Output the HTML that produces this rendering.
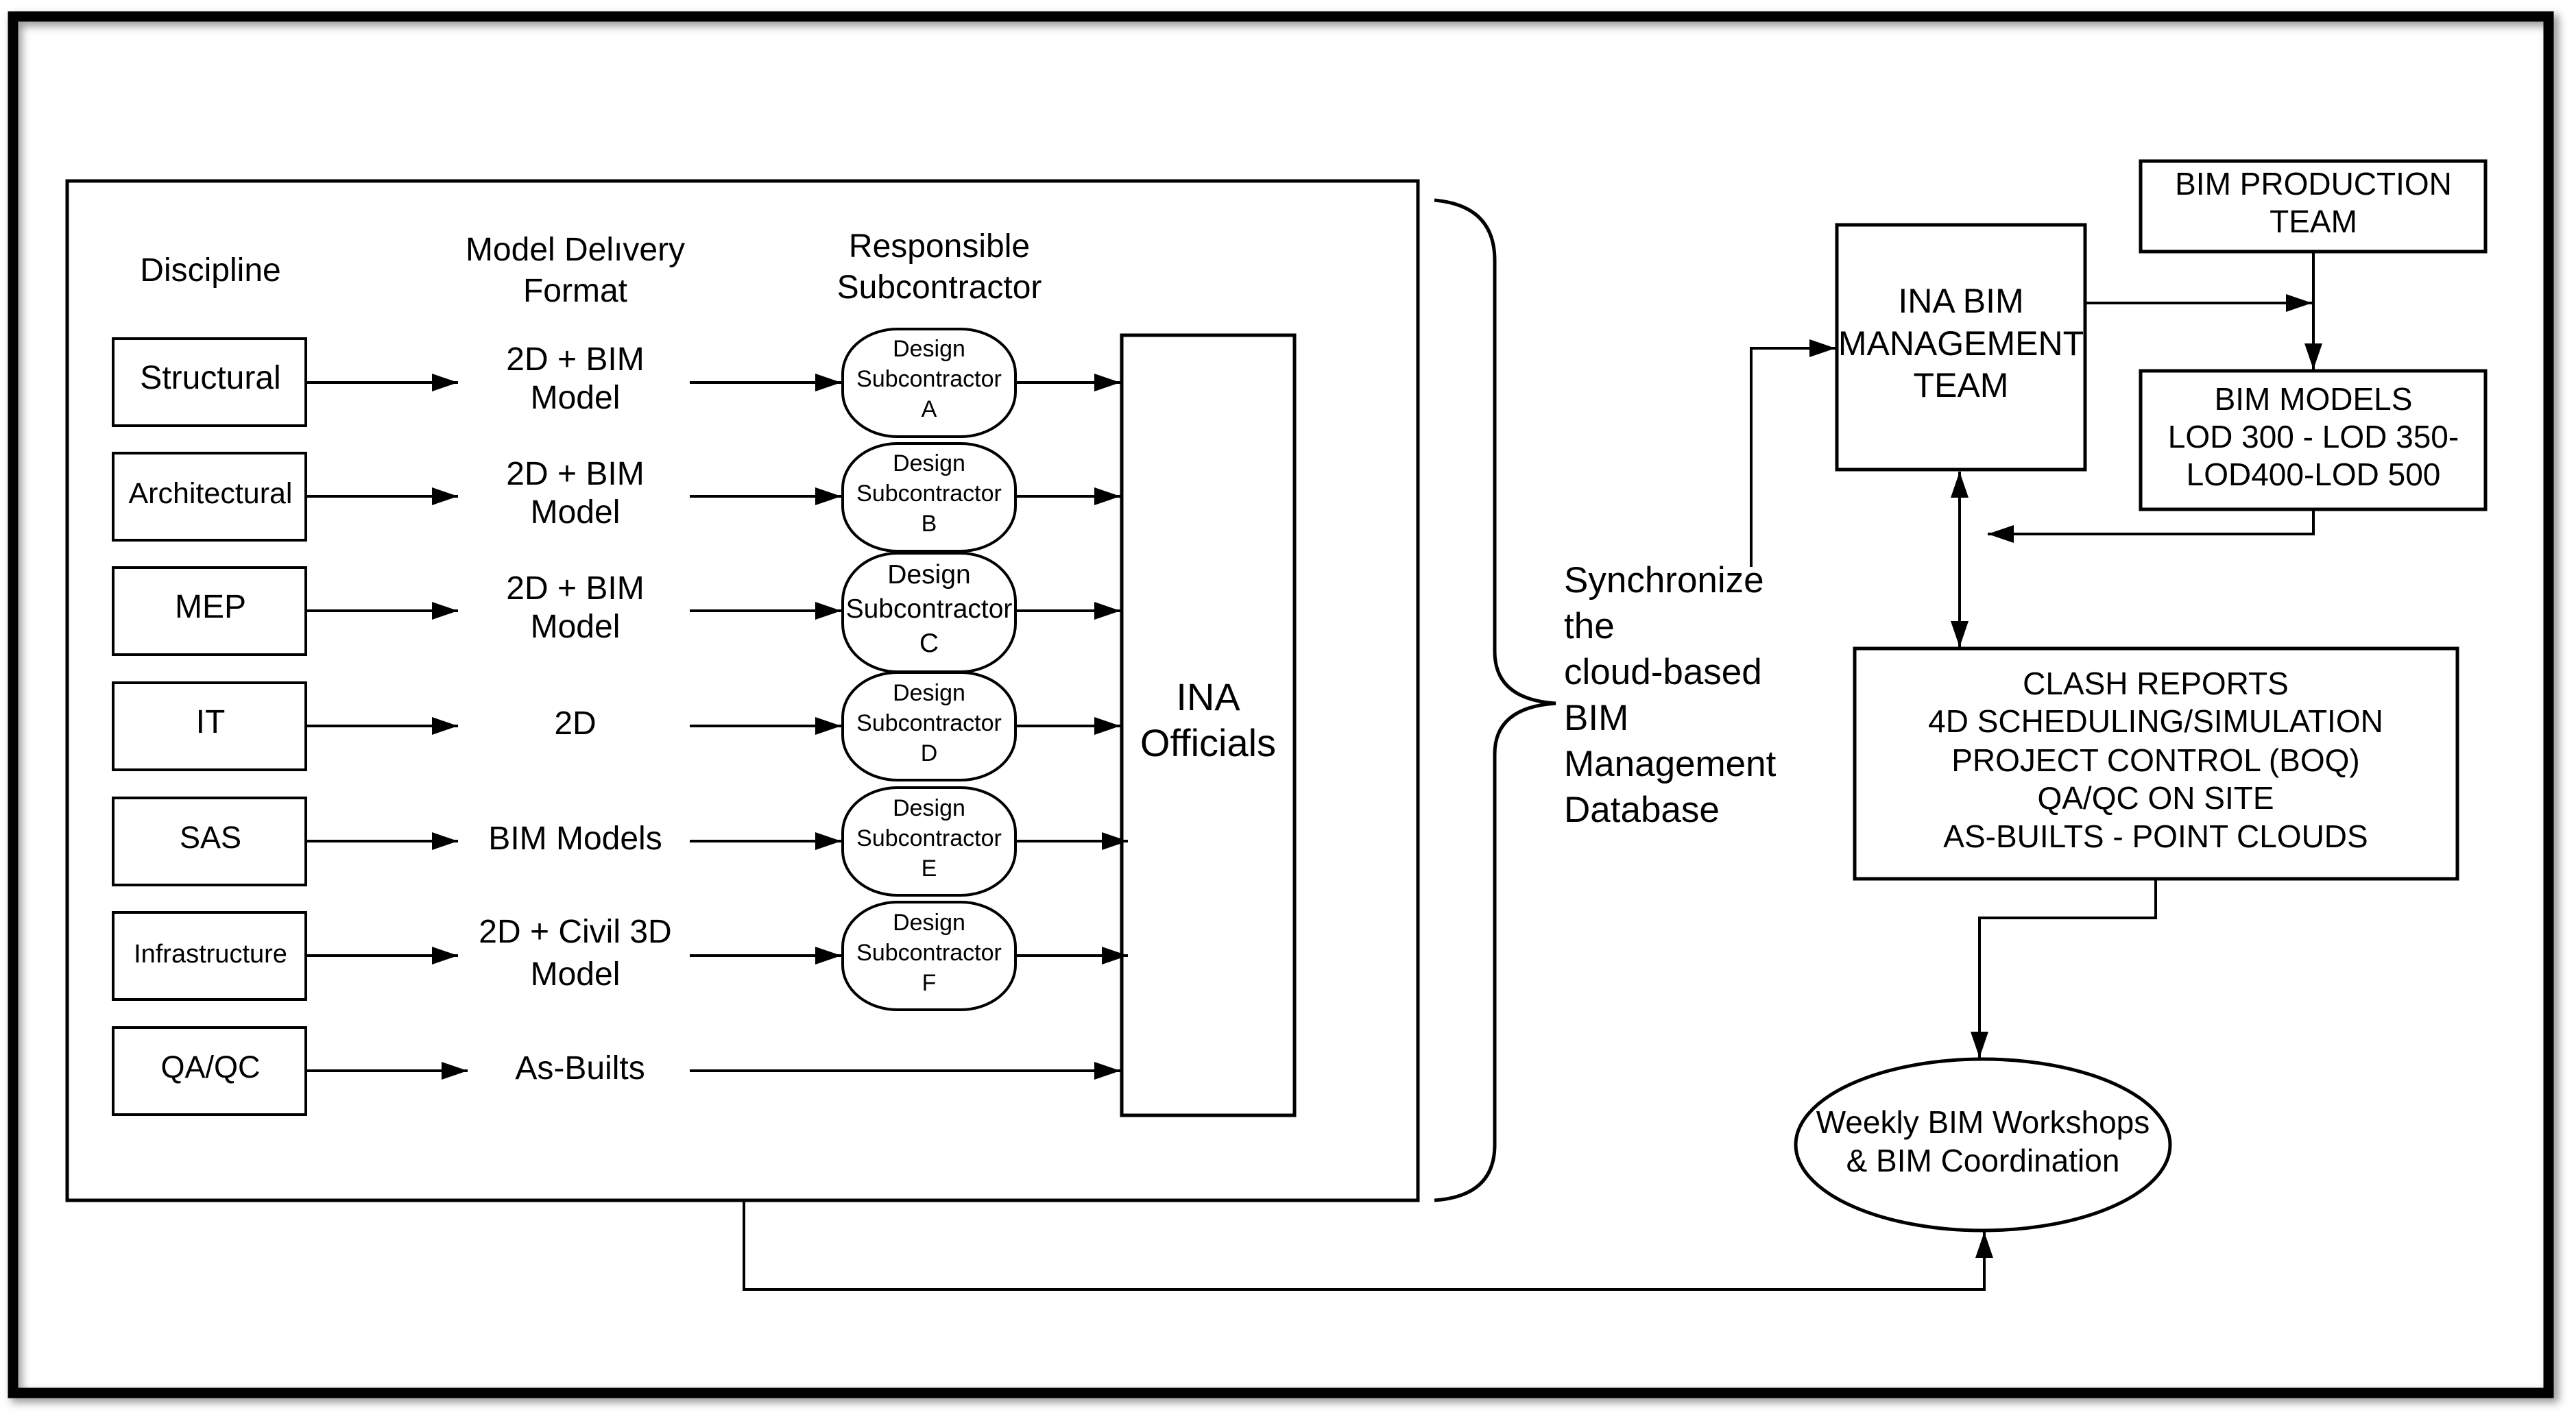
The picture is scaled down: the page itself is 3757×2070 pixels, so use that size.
<!DOCTYPE html>
<html><head><meta charset="utf-8"><style>
html,body{margin:0;padding:0;background:#fff}
svg{display:block}
text{font-family:"Liberation Sans",sans-serif;fill:#000}
</style></head><body>
<svg width="3757" height="2070" viewBox="0 0 3757 2070" xmlns="http://www.w3.org/2000/svg">
<defs>
<marker id="a" markerUnits="userSpaceOnUse" markerWidth="40" markerHeight="30" refX="38" refY="13" orient="auto"><path d="M0,0 L38,13 L0,26 Z" fill="#000"/></marker>
<marker id="b" markerUnits="userSpaceOnUse" markerWidth="40" markerHeight="30" refX="38" refY="13" orient="auto-start-reverse"><path d="M0,0 L38,13 L0,26 Z" fill="#000"/></marker>
<filter id="sh" x="-5%" y="-5%" width="110%" height="110%"><feGaussianBlur stdDeviation="6"/></filter>
</defs>
<rect x="0" y="0" width="3757" height="2070" fill="#fff"/>
<rect x="24" y="30" width="3700" height="2008" fill="none" stroke="#999" stroke-width="16" filter="url(#sh)"/>
<rect x="19" y="24" width="3698" height="2008" fill="none" stroke="#000" stroke-width="15"/>
<g fill="none" stroke="#000" stroke-width="5">
<rect x="98" y="264" width="1970" height="1487"/>
<rect x="1636" y="489" width="252" height="1138"/>
<rect x="2679" y="328" width="362" height="357"/>
<rect x="3122" y="235" width="503" height="132"/>
<rect x="3122" y="541" width="503" height="202"/>
<rect x="2705" y="946" width="879" height="336"/>
<ellipse cx="2892" cy="1670" rx="273" ry="125"/>
<path d="M2092,292 Q2180,300 2180,380 L2180,950 Q2180,1020 2269,1026 Q2180,1032 2180,1100 L2180,1670 Q2180,1745 2092,1751"/>
</g>
<g fill="none" stroke="#000" stroke-width="4">
<rect x="165" y="494" width="281" height="127"/>
<rect x="165" y="661" width="281" height="127"/>
<rect x="165" y="828" width="281" height="127"/>
<rect x="165" y="996" width="281" height="127"/>
<rect x="165" y="1164" width="281" height="127"/>
<rect x="165" y="1331" width="281" height="127"/>
<rect x="165" y="1499" width="281" height="127"/>
<rect x="1229" y="480" width="252" height="157" rx="80" ry="65"/>
<rect x="1229" y="647" width="252" height="157" rx="80" ry="65"/>
<rect x="1229" y="807" width="252" height="173" rx="80" ry="70"/>
<rect x="1229" y="981" width="252" height="157" rx="80" ry="65"/>
<rect x="1229" y="1149" width="252" height="157" rx="80" ry="65"/>
<rect x="1229" y="1316" width="252" height="157" rx="80" ry="65"/>
</g>
<g fill="none" stroke="#000" stroke-width="4" marker-end="url(#a)">
<path d="M446,558 H668"/><path d="M446,724 H668"/><path d="M446,891 H668"/><path d="M446,1059 H668"/><path d="M446,1227 H668"/><path d="M446,1394 H668"/><path d="M446,1562 H682"/>
<path d="M1006,558 H1227"/><path d="M1006,724 H1227"/><path d="M1006,891 H1227"/><path d="M1006,1059 H1227"/><path d="M1006,1227 H1227"/><path d="M1006,1394 H1227"/>
<path d="M1481,558 H1634"/><path d="M1481,724 H1634"/><path d="M1481,891 H1634"/><path d="M1481,1059 H1634"/><path d="M1481,1227 H1645"/><path d="M1481,1394 H1645"/>
<path d="M1006,1562 H1634"/>
<path d="M2554,827 V508 H2677"/>
<path d="M3041,442 H3372"/>
<path d="M3374,367 V539"/>
<path d="M3374,743 V779 H2899"/>
<path d="M3144,1282 V1339 H2887 V1543"/>
<path d="M1085,1751 V1881 H2894 V1797"/>
</g>
<path d="M2858,688 V944" fill="none" stroke="#000" stroke-width="4" marker-start="url(#b)" marker-end="url(#b)"/>
<g font-size="48" text-anchor="middle">
<text x="307" y="410">Discipline</text>
<text x="839" y="380">Model Delıvery</text>
<text x="839" y="440">Format</text>
<text x="1370" y="375">Responsible</text>
<text x="1370" y="435">Subcontractor</text>
<text x="307" y="567">Structural</text>
<text x="307" y="734" font-size="43">Architectural</text>
<text x="307" y="901">MEP</text>
<text x="307" y="1069">IT</text>
<text x="307" y="1237" font-size="45">SAS</text>
<text x="307" y="1404" font-size="38">Infrastructure</text>
<text x="307" y="1572" font-size="45">QA/QC</text>
<text x="839" y="540">2D + BIM</text><text x="839" y="596">Model</text>
<text x="839" y="707">2D + BIM</text><text x="839" y="763">Model</text>
<text x="839" y="874">2D + BIM</text><text x="839" y="930">Model</text>
<text x="839" y="1071">2D</text>
<text x="839" y="1239">BIM Models</text>
<text x="839" y="1375">2D + Civil 3D</text><text x="839" y="1437">Model</text>
<text x="846" y="1574">As-Builts</text>
</g>
<g font-size="34" text-anchor="middle">
<text x="1355" y="520">Design</text><text x="1355" y="564">Subcontractor</text><text x="1355" y="608">A</text>
<text x="1355" y="687">Design</text><text x="1355" y="731">Subcontractor</text><text x="1355" y="775">B</text>
<text x="1355" y="851" font-size="39">Design</text><text x="1355" y="901" font-size="39">Subcontractor</text><text x="1355" y="951" font-size="39">C</text>
<text x="1355" y="1022">Design</text><text x="1355" y="1066">Subcontractor</text><text x="1355" y="1110">D</text>
<text x="1355" y="1190">Design</text><text x="1355" y="1234">Subcontractor</text><text x="1355" y="1278">E</text>
<text x="1355" y="1357">Design</text><text x="1355" y="1401">Subcontractor</text><text x="1355" y="1445">F</text>
</g>
<g font-size="56" text-anchor="middle">
<text x="1762" y="1036">INA</text>
<text x="1762" y="1103">Officials</text>
</g>
<g font-size="53">
<text x="2281" y="864">Synchronize</text>
<text x="2281" y="931">the</text>
<text x="2281" y="998">cloud-based</text>
<text x="2281" y="1065">BIM</text>
<text x="2281" y="1132">Management</text>
<text x="2281" y="1199">Database</text>
</g>
<g font-size="50" text-anchor="middle">
<text x="2860" y="456">INA  BIM</text>
<text x="2860" y="518">MANAGEMENT</text>
<text x="2860" y="579">TEAM</text>
</g>
<g font-size="46" text-anchor="middle">
<text x="3374" y="284">BIM PRODUCTION</text>
<text x="3374" y="339">TEAM</text>
<text x="3374" y="598">BIM MODELS</text>
<text x="3374" y="653">LOD 300 - LOD 350-</text>
<text x="3374" y="708">LOD400-LOD 500</text>
<text x="3144" y="1013">CLASH REPORTS</text>
<text x="3144" y="1068">4D SCHEDULING/SIMULATION</text>
<text x="3144" y="1125">PROJECT CONTROL (BOQ)</text>
<text x="3144" y="1180">QA/QC ON SITE</text>
<text x="3144" y="1236">AS-BUILTS - POINT CLOUDS</text>
<text x="2892" y="1653">Weekly BIM Workshops</text>
<text x="2892" y="1709">&amp; BIM Coordination</text>
</g>
</svg>
</body></html>
